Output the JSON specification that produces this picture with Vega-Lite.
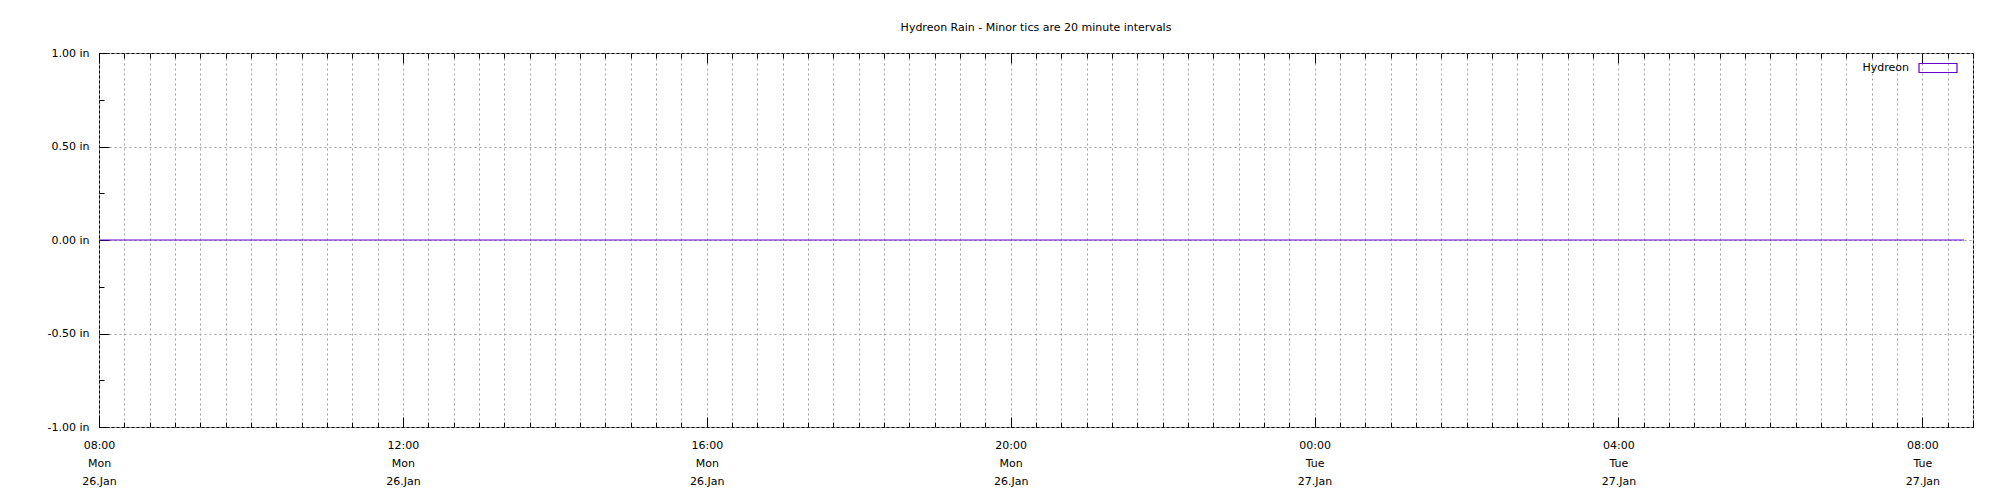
{
  "$schema": "https://vega.github.io/schema/vega-lite/v6.json",
  "width": 1874,
  "height": 374,
  "autosize": {"type": "none"},
  "padding": {"left": 99, "top": 53, "right": 27, "bottom": 73},
  "background": "white",
  "config": {
    "font": "DejaVu Sans",
    "view": {"stroke": "black", "strokeWidth": 1},
    "axis": {"domain": false, "tickColor": "black", "tickWidth": 1, "labelFont": "DejaVu Sans", "labelFontSize": 11, "labelColor": "black", "gridColor": "#a0a0a0", "gridDash": [2, 3], "gridWidth": 1, "title": null}
  },
  "title": {"text": "Hydreon Rain - Minor tics are 20 minute intervals", "font": "DejaVu Sans", "fontSize": 11, "fontWeight": "normal", "color": "black", "anchor": "middle", "offset": 14},
  "data": {"values": [
    {"time": "2015-01-26T08:00:00Z", "rain": 0, "series": "Hydreon"},
    {"time": "2015-01-26T10:00:00Z", "rain": 0, "series": "Hydreon"},
    {"time": "2015-01-26T12:00:00Z", "rain": 0, "series": "Hydreon"},
    {"time": "2015-01-26T14:00:00Z", "rain": 0, "series": "Hydreon"},
    {"time": "2015-01-26T16:00:00Z", "rain": 0, "series": "Hydreon"},
    {"time": "2015-01-26T18:00:00Z", "rain": 0, "series": "Hydreon"},
    {"time": "2015-01-26T20:00:00Z", "rain": 0, "series": "Hydreon"},
    {"time": "2015-01-26T22:00:00Z", "rain": 0, "series": "Hydreon"},
    {"time": "2015-01-27T00:00:00Z", "rain": 0, "series": "Hydreon"},
    {"time": "2015-01-27T02:00:00Z", "rain": 0, "series": "Hydreon"},
    {"time": "2015-01-27T04:00:00Z", "rain": 0, "series": "Hydreon"},
    {"time": "2015-01-27T06:00:00Z", "rain": 0, "series": "Hydreon"},
    {"time": "2015-01-27T08:00:00Z", "rain": 0, "series": "Hydreon"},
    {"time": "2015-01-27T08:33:00Z", "rain": 0, "series": "Hydreon"}
  ]},
  "layer": [
    {
      "mark": {"type": "line", "strokeWidth": 1, "interpolate": "linear"},
      "encoding": {
        "x": {"field": "time", "type": "temporal",
          "scale": {"type": "utc", "domain": [{"year": 2015, "month": 1, "date": 26, "hours": 8, "utc": true}, {"year": 2015, "month": 1, "date": 27, "hours": 8, "minutes": 40, "utc": true}]},
          "axis": {"orient": "bottom", "tickSize": -5, "labels": false, "grid": true,
            "values": [1422259200000, 1422260400000, 1422261600000, 1422262800000, 1422264000000, 1422265200000, 1422266400000, 1422267600000, 1422268800000, 1422270000000, 1422271200000, 1422272400000, 1422273600000, 1422274800000, 1422276000000, 1422277200000, 1422278400000, 1422279600000, 1422280800000, 1422282000000, 1422283200000, 1422284400000, 1422285600000, 1422286800000, 1422288000000, 1422289200000, 1422290400000, 1422291600000, 1422292800000, 1422294000000, 1422295200000, 1422296400000, 1422297600000, 1422298800000, 1422300000000, 1422301200000, 1422302400000, 1422303600000, 1422304800000, 1422306000000, 1422307200000, 1422308400000, 1422309600000, 1422310800000, 1422312000000, 1422313200000, 1422314400000, 1422315600000, 1422316800000, 1422318000000, 1422319200000, 1422320400000, 1422321600000, 1422322800000, 1422324000000, 1422325200000, 1422326400000, 1422327600000, 1422328800000, 1422330000000, 1422331200000, 1422332400000, 1422333600000, 1422334800000, 1422336000000, 1422337200000, 1422338400000, 1422339600000, 1422340800000, 1422342000000, 1422343200000, 1422344400000, 1422345600000, 1422346800000, 1422348000000]}},
        "y": {"field": "rain", "type": "quantitative",
          "scale": {"domain": [-1, 1], "nice": false, "zero": false},
          "axis": {"orient": "left", "values": [-1, -0.75, -0.5, -0.25, 0, 0.25, 0.5, 0.75, 1], "tickSize": -5, "labels": false, "grid": false}},
        "color": {"field": "series", "type": "nominal",
          "scale": {"range": ["#6400cc"]},
          "legend": {"title": null, "orient": "none", "legendX": 1819, "legendY": -5, "padding": 0,
            "symbolType": "M-1,-0.237H1V0.237H-1Z", "symbolSize": 1444, "symbolStrokeWidth": 1.2, "symbolFillColor": "transparent", "symbolOpacity": 1,
            "labelAlign": "right", "labelOffset": -49, "labelFont": "DejaVu Sans", "labelFontSize": 11, "labelColor": "black"}}
      }
    },
    {
      "mark": {"type": "line", "strokeOpacity": 0},
      "encoding": {
        "x": {"field": "time", "type": "temporal",
          "axis": {"orient": "bottom", "values": [1422259200000, 1422273600000, 1422288000000, 1422302400000, 1422316800000, 1422331200000, 1422345600000], "tickSize": -10, "grid": false, "labelPadding": 22, "labelLineHeight": 18, "labelBaseline": "top", "labelAlign": "center",
            "labelExpr": "[utcFormat(datum.value, '%H:%M'), utcFormat(datum.value, '%a'), utcFormat(datum.value, '%d.%b')]"}},
        "y": {"field": "rain", "type": "quantitative",
          "axis": {"orient": "left", "values": [-1, -0.5, 0, 0.5, 1], "tickSize": -10, "grid": true, "labelPadding": 20, "labelBaseline": "middle",
            "labelExpr": "(datum.value < 0 ? '-' : '') + format(abs(datum.value), '.2f') + ' in'"}}
      }
    },
    {
      "mark": {"type": "line", "strokeOpacity": 0},
      "encoding": {
        "x": {"field": "time", "type": "temporal",
          "axis": {"orient": "top", "tickSize": -5, "labels": false, "grid": false,
            "values": [1422259200000, 1422260400000, 1422261600000, 1422262800000, 1422264000000, 1422265200000, 1422266400000, 1422267600000, 1422268800000, 1422270000000, 1422271200000, 1422272400000, 1422273600000, 1422274800000, 1422276000000, 1422277200000, 1422278400000, 1422279600000, 1422280800000, 1422282000000, 1422283200000, 1422284400000, 1422285600000, 1422286800000, 1422288000000, 1422289200000, 1422290400000, 1422291600000, 1422292800000, 1422294000000, 1422295200000, 1422296400000, 1422297600000, 1422298800000, 1422300000000, 1422301200000, 1422302400000, 1422303600000, 1422304800000, 1422306000000, 1422307200000, 1422308400000, 1422309600000, 1422310800000, 1422312000000, 1422313200000, 1422314400000, 1422315600000, 1422316800000, 1422318000000, 1422319200000, 1422320400000, 1422321600000, 1422322800000, 1422324000000, 1422325200000, 1422326400000, 1422327600000, 1422328800000, 1422330000000, 1422331200000, 1422332400000, 1422333600000, 1422334800000, 1422336000000, 1422337200000, 1422338400000, 1422339600000, 1422340800000, 1422342000000, 1422343200000, 1422344400000, 1422345600000, 1422346800000, 1422348000000]}},
        "y": {"field": "rain", "type": "quantitative", "axis": null}
      }
    },
    {
      "mark": {"type": "line", "strokeOpacity": 0},
      "encoding": {
        "x": {"field": "time", "type": "temporal",
          "axis": {"orient": "top", "values": [1422259200000, 1422273600000, 1422288000000, 1422302400000, 1422316800000, 1422331200000, 1422345600000], "tickSize": -10, "labels": false, "grid": false}},
        "y": {"field": "rain", "type": "quantitative", "axis": null}
      }
    }
  ],
  "resolve": {"axis": {"x": "independent", "y": "independent"}}
}
